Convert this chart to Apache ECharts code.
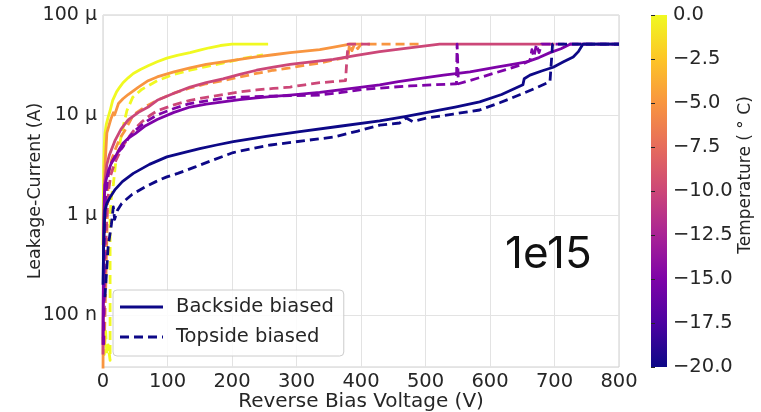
<!DOCTYPE html>
<html>
<head>
<meta charset="utf-8">
<script src="https://cdn.jsdelivr.net/npm/echarts@6/dist/echarts.min.js"></script>
<style>html,body{margin:0;padding:0;background:#fff;}#c{width:761px;height:412px;}</style>
</head>
<body>
<div id="c"></div>
<script>
// ---------- data (V in volts, I in amperes) ----------
const tempMin = -20, tempMax = 0;
const colorbarTicks = [-20, -17.5, -15, -12.5, -10, -7.5, -5, -2.5, 0];
const yTickLabels = { '-4': '100 μ', '-5': '10 μ', '-6': '1 μ', '-7': '100 n' };
const xTicks = [0, 100, 200, 300, 400, 500, 600, 700, 800];

// 0 °C
const back0V = [0, 1, 2, 3, 5, 8, 11, 15, 21, 26, 31, 39, 47, 58, 70, 84, 99, 115, 135, 150, 165, 182, 200, 256];
const back0I = [5e-7, 3e-6, 5e-6, 6.5e-6, 8e-6, 9.5e-6, 11e-6, 14e-6, 17e-6, 19e-6, 21e-6, 23.5e-6, 26e-6, 28.5e-6, 31e-6, 34e-6, 37e-6, 39.5e-6, 42e-6, 44.5e-6, 47e-6, 49.5e-6, 51e-6, 51e-6];
const top0V = [0, 2, 4, 6, 8, 11, 11, 13, 16, 20, 26, 32, 37, 46, 60, 84, 110, 135, 160, 186, 215, 248];
const top0I = [6e-8, 4e-8, 7e-8, 4e-8, 5e-8, 3.5e-8, 1e-6, 1.5e-6, 2e-6, 3.5e-6, 5.2e-6, 8e-6, 11e-6, 15e-6, 18e-6, 22e-6, 25.5e-6, 28e-6, 30.5e-6, 33e-6, 36.5e-6, 40e-6];
// -5 °C
const back5V = [0, 1, 3, 6, 12, 16, 18, 24, 31, 39, 55, 70, 84, 110, 135, 160, 186, 212, 238, 264, 290, 313, 336, 360, 383, 400];
const back5I = [2.5e-8, 5e-7, 3e-6, 6.6e-6, 9e-6, 10.5e-6, 10e-6, 13e-6, 14.5e-6, 16e-6, 19e-6, 22e-6, 24e-6, 27e-6, 29.5e-6, 32e-6, 34e-6, 36e-6, 38e-6, 40e-6, 42e-6, 43.5e-6, 45e-6, 48e-6, 51e-6, 51e-6];
const top5V = [2, 5, 8, 13, 19, 26, 34, 47, 65, 84, 110, 135, 160, 186, 212, 238, 264, 290, 313, 336, 358, 380, 382, 386, 390, 395, 400, 496];
const top5I = [5e-8, 3e-7, 2.4e-6, 3.5e-6, 4.5e-6, 5.8e-6, 7e-6, 10e-6, 12e-6, 14e-6, 16.5e-6, 18.6e-6, 20.5e-6, 22e-6, 24e-6, 26e-6, 28e-6, 29.5e-6, 31.5e-6, 33e-6, 35.5e-6, 38e-6, 51e-6, 44e-6, 51e-6, 46e-6, 51e-6, 51e-6];
// -10 °C
const back10V = [0, 1, 3, 6, 10, 19, 28, 39, 55, 70, 84, 110, 135, 160, 186, 212, 238, 264, 290, 323, 357, 393, 429, 475, 522, 700];
const back10I = [4e-8, 5e-7, 2.2e-6, 3.2e-6, 4e-6, 5.6e-6, 7.2e-6, 8.9e-6, 10.6e-6, 12e-6, 14e-6, 16.5e-6, 19e-6, 21e-6, 23e-6, 25.5e-6, 28e-6, 30e-6, 32e-6, 34e-6, 36e-6, 39.5e-6, 43e-6, 47e-6, 51e-6, 51e-6];
const top10V = [2, 4, 6, 9, 12, 16, 20, 30, 40, 50, 60, 72, 84, 110, 135, 160, 186, 212, 238, 264, 290, 313, 336, 356, 376, 378, 380, 420];
const top10I = [1e-7, 4e-7, 1e-6, 1.8e-6, 2.5e-6, 3e-6, 3.5e-6, 4.8e-6, 6e-6, 7.3e-6, 8.5e-6, 9.8e-6, 11e-6, 12.6e-6, 14e-6, 15e-6, 16e-6, 17e-6, 17.8e-6, 18.4e-6, 19e-6, 20e-6, 21e-6, 21.5e-6, 22e-6, 35e-6, 51e-6, 51e-6];
// -15 °C
const back15V = [0, 1, 2, 3, 8, 13, 19, 25, 31, 40, 50, 66, 84, 110, 135, 160, 186, 212, 238, 264, 290, 336, 383, 429, 458, 487, 528, 569, 610, 635, 657, 676, 693, 710, 724, 800];
const back15I = [5e-8, 8e-7, 1.5e-6, 2e-6, 2.7e-6, 3.3e-6, 3.8e-6, 4.5e-6, 5.2e-6, 5.9e-6, 6.5e-6, 7.8e-6, 9e-6, 10.6e-6, 12e-6, 12.8e-6, 13.5e-6, 14.2e-6, 14.8e-6, 15.3e-6, 15.8e-6, 16.8e-6, 18.3e-6, 20e-6, 21.5e-6, 23e-6, 25e-6, 27e-6, 30e-6, 32e-6, 34e-6, 37.5e-6, 42e-6, 46e-6, 51e-6, 51e-6];
const top15V = [1, 2, 4, 7, 10, 15, 20, 31, 40, 50, 66, 84, 110, 135, 168, 202, 246, 290, 336, 370, 403, 440, 476, 512, 548, 549, 551, 578, 605, 626, 647, 662, 665, 668, 672, 676, 680, 800];
const top15I = [5e-8, 5e-7, 1.5e-6, 2.3e-6, 3e-6, 3.5e-6, 4e-6, 4.8e-6, 5.9e-6, 7e-6, 8.5e-6, 10e-6, 11.6e-6, 13e-6, 14.1e-6, 15e-6, 15.3e-6, 15.6e-6, 15.8e-6, 16.8e-6, 18e-6, 18.8e-6, 19.5e-6, 20e-6, 20.5e-6, 51e-6, 20.5e-6, 23e-6, 26e-6, 28.5e-6, 31.6e-6, 35e-6, 45e-6, 38e-6, 51e-6, 42e-6, 51e-6, 51e-6];
// -20 °C
const back20V = [0, 1, 3, 6, 11, 19, 30, 47, 72, 99, 125, 150, 176, 202, 253, 305, 367, 429, 468, 507, 546, 584, 618, 651, 653, 662, 680, 698, 714, 729, 737, 744, 800];
const back20I = [2e-7, 5e-7, 1.1e-6, 1.3e-6, 1.5e-6, 1.8e-6, 2.15e-6, 2.6e-6, 3.2e-6, 3.8e-6, 4.2e-6, 4.6e-6, 5e-6, 5.4e-6, 6.1e-6, 6.8e-6, 7.7e-6, 8.7e-6, 9.6e-6, 10.7e-6, 12e-6, 13.5e-6, 16e-6, 20e-6, 23e-6, 25e-6, 27.5e-6, 30e-6, 34e-6, 38e-6, 43e-6, 51e-6, 51e-6];
const top20V = [3, 6, 8, 13, 16, 18, 22, 29, 45, 65, 82, 99, 116, 142, 169, 202, 230, 260, 310, 357, 395, 429, 460, 470, 480, 502, 543, 584, 616, 647, 670, 693, 696, 697, 800];
const top20I = [1.5e-7, 3e-7, 4.8e-7, 8e-7, 1.2e-6, 0.9e-6, 1.1e-6, 1.3e-6, 1.6e-6, 1.9e-6, 2.15e-6, 2.4e-6, 2.6e-6, 3e-6, 3.5e-6, 4.2e-6, 4.6e-6, 5e-6, 5.5e-6, 6e-6, 6.9e-6, 7.9e-6, 8.3e-6, 9.3e-6, 8.6e-6, 9.3e-6, 10.2e-6, 11.2e-6, 13.3e-6, 16e-6, 18.5e-6, 21.5e-6, 22e-6, 51e-6, 51e-6];

const curves = [
  { temp: 0,   side: 'back', V: back0V,  I: back0I },
  { temp: 0,   side: 'top',  V: top0V,   I: top0I },
  { temp: -5,  side: 'back', V: back5V,  I: back5I },
  { temp: -5,  side: 'top',  V: top5V,   I: top5I },
  { temp: -10, side: 'back', V: back10V, I: back10I },
  { temp: -10, side: 'top',  V: top10V,  I: top10I },
  { temp: -15, side: 'back', V: back15V, I: back15I },
  { temp: -15, side: 'top',  V: top15V,  I: top15I },
  { temp: -20, side: 'back', V: back20V, I: back20I },
  { temp: -20, side: 'top',  V: top20V,  I: top20I }
];

// ---------- plasma colormap ----------
const plasma = ['#0d0887', '#4c02a1', '#7e03a8', '#a92395', '#cc4778', '#e66c5c', '#f89540', '#fdc527', '#f0f921'];
function hex2rgb(h) { return [1, 3, 5].map(i => parseInt(h.substr(i, 2), 16)); }
function plasmaAt(t) {
  t = Math.max(0, Math.min(1, t));
  const p = t * (plasma.length - 1), i = Math.min(plasma.length - 2, Math.floor(p)), f = p - i;
  const a = hex2rgb(plasma[i]), b = hex2rgb(plasma[i + 1]);
  return 'rgb(' + a.map((v, k) => Math.round(v + (b[k] - v) * f)).join(',') + ')';
}
const tempColor = t => plasmaAt((t - tempMin) / (tempMax - tempMin));

// minor gridlines (2..9 per decade)
const minorVals = [];
for (let e = -8; e <= -5; e++) for (let m = 2; m <= 9; m++) { const v = m * Math.pow(10, e); if (v >= 3e-8 && v < 1e-4) minorVals.push(v); }

const FONT = 'DejaVu Sans';
const txt = '#262626';
const DASH = [9, 5];

const series = curves.map(c => ({
  type: 'line', xAxisIndex: 0, yAxisIndex: 0,
  data: c.V.map((v, i) => [v, c.I[i]]),
  symbol: 'none', showSymbol: false, clip: true,
  lineStyle: { width: 2.8, color: tempColor(c.temp), type: c.side === 'top' ? DASH : 'solid', join: 'round' },
  itemStyle: { color: tempColor(c.temp) },
  emphasis: { disabled: true }
}));
series.unshift({
  type: 'line', xAxisIndex: 0, yAxisIndex: 0, data: [], silent: true,
  markLine: {
    silent: true, symbol: 'none', label: { show: false },
    lineStyle: { color: '#d9d9d9', type: [2, 2], width: 1 },
    data: minorVals.map(v => ({ yAxis: v }))
  }
});
series.push({ name: 'Backside biased', type: 'line', data: [], symbol: 'none', color: tempColor(-20) });
series.push({ name: 'Topside biased', type: 'line', data: [], symbol: 'none', color: tempColor(-20) });

const gradStops = plasma.map((c, i) => ({ offset: 1 - i / (plasma.length - 1), color: c }));

const option = {
  animation: false,
  backgroundColor: '#ffffff',
  textStyle: { fontFamily: FONT },
  grid: [
    { left: 103, top: 15, width: 516, height: 352, containLabel: false, outerBoundsMode: 'none',
      show: true, borderColor: '#cfcfcf', borderWidth: 1, backgroundColor: 'transparent' },
    { left: 651, top: 15, width: 16, height: 352, containLabel: false, outerBoundsMode: 'none',
      show: true, borderWidth: 0,
      backgroundColor: { type: 'linear', x: 0, y: 0, x2: 0, y2: 1, colorStops: gradStops } }
  ],
  xAxis: [
    { gridIndex: 0, type: 'value', min: 0, max: 800, interval: 100,
      name: 'Reverse Bias Voltage (V)', nameLocation: 'middle', nameGap: 25, nameMoveOverlap: false,
      nameTextStyle: { fontSize: 20, color: txt, fontFamily: FONT, verticalAlign: 'top' },
      axisLine: { show: false }, axisTick: { show: false },
      axisLabel: { fontSize: 19.5, color: txt, fontFamily: FONT, margin: 5 },
      splitLine: { show: true, lineStyle: { color: '#e3e3e3', width: 1 } } },
    { gridIndex: 1, type: 'value', min: 0, max: 1, show: false }
  ],
  yAxis: [
    { gridIndex: 0, type: 'log', logBase: 10, min: 3e-8, max: 1e-4,
      name: 'Leakage-Current (A)', nameLocation: 'middle', nameGap: 59, nameMoveOverlap: false,
      nameTextStyle: { fontSize: 17.5, color: txt, fontFamily: FONT },
      axisLine: { show: false }, axisTick: { show: false },
      axisLabel: { fontSize: 19, color: txt, fontFamily: FONT, margin: 6,
        formatter: v => { const e = Math.log10(v), r = Math.round(e); return Math.abs(e - r) < 1e-6 && yTickLabels[String(r)] ? yTickLabels[String(r)] : ''; } },
      splitLine: { show: true, lineStyle: { color: '#e3e3e3', width: 1 } } },
    { gridIndex: 1, type: 'value', min: tempMin, max: tempMax, interval: 2.5, position: 'right',
      name: 'Temperature ( ° C)', nameLocation: 'middle', nameGap: 70, nameRotate: 90, nameMoveOverlap: false,
      nameTextStyle: { fontSize: 17, color: txt, fontFamily: FONT, padding: [0, 0, 0, 32] },
      axisLine: { show: false }, axisTick: { show: true, length: 4, lineStyle: { color: txt } },
      axisLabel: { fontSize: 19.5, color: txt, fontFamily: FONT, margin: 6,
        formatter: v => (Math.abs(v) < 1e-9 ? 0 : v).toFixed(1).replace('-', '−') },
      splitLine: { show: false } }
  ],
  legend: {
    data: [
      { name: 'Backside biased', icon: 'rect' },
      { name: 'Topside biased', icon: 'path://M0,0h9v3h-9z M14,0h9v3h-9z M28,0h9v3h-9z M42,0h1v3h-1z' }
    ],
    orient: 'vertical', left: 113, top: 290,
    itemWidth: 43, itemHeight: 3, itemGap: 10, padding: [7, 10, 9, 7],
    backgroundColor: 'rgba(255,255,255,0.85)', borderColor: '#cccccc', borderWidth: 1, borderRadius: 4,
    textStyle: { fontSize: 19.5, color: txt, fontFamily: FONT, lineHeight: 20, padding: [0, 0, 0, 8] },
    selectedMode: false
  },
  title: { text: '1e15', left: 500, top: 228, textStyle: { fontSize: 44, fontWeight: 'normal', color: '#111', fontFamily: 'Inter' } },
  series: series
};

const chart = echarts.init(document.getElementById('c'), null, { renderer: 'canvas' });
chart.setOption(option);
</script>
</body>
</html>
